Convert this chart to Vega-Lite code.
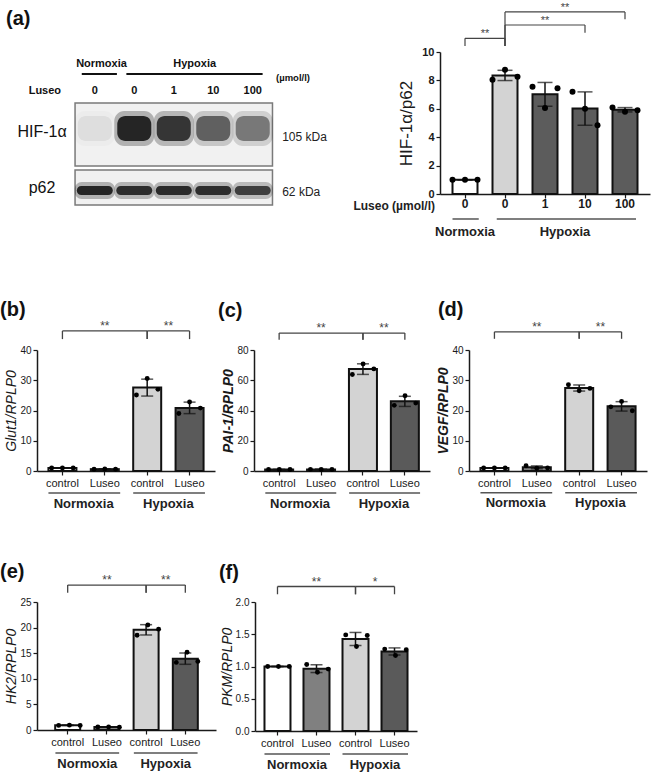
{
"$schema": "https://vega.github.io/schema/vega-lite/v6.json",
"padding": {"left": 0, "top": 1, "right": 3, "bottom": 0},
"datasets": {
"blot": [
{"lane":1,"dose":"0","protein":"HIF-1α","intensity":0.07},
{"lane":2,"dose":"0","protein":"HIF-1α","intensity":0.95},
{"lane":3,"dose":"1","protein":"HIF-1α","intensity":0.85},
{"lane":4,"dose":"10","protein":"HIF-1α","intensity":0.62},
{"lane":5,"dose":"100","protein":"HIF-1α","intensity":0.5},
{"lane":1,"dose":"0","protein":"p62","intensity":0.95},
{"lane":2,"dose":"0","protein":"p62","intensity":0.9},
{"lane":3,"dose":"1","protein":"p62","intensity":0.92},
{"lane":4,"dose":"10","protein":"p62","intensity":0.9},
{"lane":5,"dose":"100","protein":"p62","intensity":0.8}
],
"hif": [
{"cond":"Normoxia 0","rep":1,"value":1.0},{"cond":"Normoxia 0","rep":2,"value":1.0},{"cond":"Normoxia 0","rep":3,"value":1.0},
{"cond":"Hypoxia 0","rep":1,"value":8.05},{"cond":"Hypoxia 0","rep":2,"value":8.75},{"cond":"Hypoxia 0","rep":3,"value":8.25},
{"cond":"Hypoxia 1","rep":1,"value":7.55},{"cond":"Hypoxia 1","rep":2,"value":6.05},{"cond":"Hypoxia 1","rep":3,"value":7.45},
{"cond":"Hypoxia 10","rep":1,"value":7.2},{"cond":"Hypoxia 10","rep":2,"value":6.0},{"cond":"Hypoxia 10","rep":3,"value":4.85},
{"cond":"Hypoxia 100","rep":1,"value":6.1},{"cond":"Hypoxia 100","rep":2,"value":5.8},{"cond":"Hypoxia 100","rep":3,"value":5.9}
],
"glut1": [
{"cond":"Normoxia control","rep":1,"value":1.0},{"cond":"Normoxia control","rep":2,"value":1.0},{"cond":"Normoxia control","rep":3,"value":1.0},
{"cond":"Normoxia Luseo","rep":1,"value":0.6},{"cond":"Normoxia Luseo","rep":2,"value":0.65},{"cond":"Normoxia Luseo","rep":3,"value":0.6},
{"cond":"Hypoxia control","rep":1,"value":25.1},{"cond":"Hypoxia control","rep":2,"value":30.6},{"cond":"Hypoxia control","rep":3,"value":27.0},
{"cond":"Hypoxia Luseo","rep":1,"value":19.0},{"cond":"Hypoxia Luseo","rep":2,"value":22.8},{"cond":"Hypoxia Luseo","rep":3,"value":20.8}
],
"pai1": [
{"cond":"Normoxia control","rep":1,"value":1.0},{"cond":"Normoxia control","rep":2,"value":1.0},{"cond":"Normoxia control","rep":3,"value":1.0},
{"cond":"Normoxia Luseo","rep":1,"value":1.1},{"cond":"Normoxia Luseo","rep":2,"value":1.0},{"cond":"Normoxia Luseo","rep":3,"value":1.0},
{"cond":"Hypoxia control","rep":1,"value":63.8},{"cond":"Hypoxia control","rep":2,"value":70.8},{"cond":"Hypoxia control","rep":3,"value":67.5},
{"cond":"Hypoxia Luseo","rep":1,"value":43.4},{"cond":"Hypoxia Luseo","rep":2,"value":49.8},{"cond":"Hypoxia Luseo","rep":3,"value":44.9}
],
"vegf": [
{"cond":"Normoxia control","rep":1,"value":1.0},{"cond":"Normoxia control","rep":2,"value":1.0},{"cond":"Normoxia control","rep":3,"value":1.0},
{"cond":"Normoxia Luseo","rep":1,"value":1.75},{"cond":"Normoxia Luseo","rep":2,"value":0.9},{"cond":"Normoxia Luseo","rep":3,"value":1.0},
{"cond":"Hypoxia control","rep":1,"value":28.5},{"cond":"Hypoxia control","rep":2,"value":26.5},{"cond":"Hypoxia control","rep":3,"value":27.3},
{"cond":"Hypoxia Luseo","rep":1,"value":21.2},{"cond":"Hypoxia Luseo","rep":2,"value":23.0},{"cond":"Hypoxia Luseo","rep":3,"value":19.9}
],
"hk2": [
{"cond":"Normoxia control","rep":1,"value":0.9},{"cond":"Normoxia control","rep":2,"value":0.95},{"cond":"Normoxia control","rep":3,"value":0.9},
{"cond":"Normoxia Luseo","rep":1,"value":0.6},{"cond":"Normoxia Luseo","rep":2,"value":0.6},{"cond":"Normoxia Luseo","rep":3,"value":0.55},
{"cond":"Hypoxia control","rep":1,"value":18.5},{"cond":"Hypoxia control","rep":2,"value":20.5},{"cond":"Hypoxia control","rep":3,"value":19.7},
{"cond":"Hypoxia Luseo","rep":1,"value":13.2},{"cond":"Hypoxia Luseo","rep":2,"value":15.2},{"cond":"Hypoxia Luseo","rep":3,"value":13.4}
],
"pkm": [
{"cond":"Normoxia control","rep":1,"value":1.0},{"cond":"Normoxia control","rep":2,"value":1.0},{"cond":"Normoxia control","rep":3,"value":1.0},
{"cond":"Normoxia Luseo","rep":1,"value":1.03},{"cond":"Normoxia Luseo","rep":2,"value":0.91},{"cond":"Normoxia Luseo","rep":3,"value":0.96},
{"cond":"Hypoxia control","rep":1,"value":1.49},{"cond":"Hypoxia control","rep":2,"value":1.31},{"cond":"Hypoxia control","rep":3,"value":1.48},
{"cond":"Hypoxia Luseo","rep":1,"value":1.27},{"cond":"Hypoxia Luseo","rep":2,"value":1.17},{"cond":"Hypoxia Luseo","rep":3,"value":1.26}
],
"brk4": [{"a":"Normoxia control","b":"Hypoxia control"},{"a":"Hypoxia control","b":"Hypoxia Luseo"}],
"grp4": [{"a":"Normoxia control","b":"Normoxia Luseo","g":"Normoxia"},{"a":"Hypoxia control","b":"Hypoxia Luseo","g":"Hypoxia"}]
},
"spacing": 60,
"resolve": {"scale": {"color": "independent", "xOffset": "independent"}},
"vconcat": [
{"hconcat": [
{
"width": 364, "height": 163,
"layer": [
{"data": {"values": [{}]}, "layer": [
{"mark": {"type": "rect", "fill": "#f1f1f1", "stroke": "#7a7a7a", "strokeWidth": 1.5}, "encoding": {"x": {"datum": 0.5, "type": "quantitative", "scale": {"domain": [-0.337, 8.628], "nice": false, "zero": false}, "axis": null}, "x2": {"datum": 5.5}, "y": {"datum": 3.9, "type": "quantitative", "scale": {"domain": [-1, 15.3], "nice": false, "zero": false}, "axis": null}, "y2": {"datum": 10.2}}},
{"mark": {"type": "rect", "fill": "#f1f1f1", "stroke": "#7a7a7a", "strokeWidth": 1.5}, "encoding": {"x": {"datum": 0.5, "type": "quantitative", "axis": null}, "x2": {"datum": 5.5}, "y": {"datum": 0, "type": "quantitative", "axis": null}, "y2": {"datum": 3.5}}},
{"mark": {"type": "rule", "color": "#111", "strokeWidth": 2}, "encoding": {"x": {"datum": 0.67, "type": "quantitative", "axis": null}, "x2": {"datum": 1.56}, "y": {"datum": 13.1, "type": "quantitative", "axis": null}}},
{"mark": {"type": "rule", "color": "#111", "strokeWidth": 2}, "encoding": {"x": {"datum": 1.8, "type": "quantitative", "axis": null}, "x2": {"datum": 5.25}, "y": {"datum": 13.1, "type": "quantitative", "axis": null}}},
{"mark": {"type": "text", "text": "(a)", "fontSize": 20, "fontWeight": "bold", "align": "left", "baseline": "alphabetic", "color": "#111"}, "encoding": {"x": {"datum": -1.249, "type": "quantitative", "axis": null}, "y": {"datum": 18.0, "type": "quantitative", "axis": null}}},
{"mark": {"type": "text", "text": "Normoxia", "fontSize": 11, "fontWeight": "bold", "baseline": "alphabetic", "color": "#111"}, "encoding": {"x": {"datum": 1.17, "type": "quantitative", "axis": null}, "y": {"datum": 13.8, "type": "quantitative", "axis": null}}},
{"mark": {"type": "text", "text": "Hypoxia", "fontSize": 11, "fontWeight": "bold", "baseline": "alphabetic", "color": "#111"}, "encoding": {"x": {"datum": 3.53, "type": "quantitative", "axis": null}, "y": {"datum": 13.8, "type": "quantitative", "axis": null}}},
{"mark": {"type": "text", "text": "(µmol/l)", "fontSize": 9.5, "fontWeight": "bold", "baseline": "alphabetic", "color": "#111"}, "encoding": {"x": {"datum": 6.02, "type": "quantitative", "axis": null}, "y": {"datum": 12.4, "type": "quantitative", "axis": null}}},
{"mark": {"type": "text", "text": "Luseo", "fontSize": 11, "fontWeight": "bold", "baseline": "alphabetic", "color": "#111"}, "encoding": {"x": {"datum": -0.264, "type": "quantitative", "axis": null}, "y": {"datum": 11.1, "type": "quantitative", "axis": null}}},
{"mark": {"type": "text", "text": "HIF-1α", "fontSize": 16, "baseline": "alphabetic", "color": "#111"}, "encoding": {"x": {"datum": -0.337, "type": "quantitative", "axis": null}, "y": {"datum": 6.8, "type": "quantitative", "axis": null}}},
{"mark": {"type": "text", "text": "p62", "fontSize": 16, "baseline": "alphabetic", "color": "#111"}, "encoding": {"x": {"datum": -0.337, "type": "quantitative", "axis": null}, "y": {"datum": 1.2, "type": "quantitative", "axis": null}}},
{"mark": {"type": "text", "text": "105 kDa", "fontSize": 12, "align": "left", "baseline": "alphabetic", "color": "#222"}, "encoding": {"x": {"datum": 5.746, "type": "quantitative", "axis": null}, "y": {"datum": 6.4, "type": "quantitative", "axis": null}}},
{"mark": {"type": "text", "text": "62 kDa", "fontSize": 12, "align": "left", "baseline": "alphabetic", "color": "#222"}, "encoding": {"x": {"datum": 5.746, "type": "quantitative", "axis": null}, "y": {"datum": 0.9, "type": "quantitative", "axis": null}}}
]},
{"data": {"name": "blot"}, "transform": [{"filter": "datum.protein == 'HIF-1α'"}], "layer": [
{"mark": {"type": "bar", "size": 40, "cornerRadius": 10, "color": "#111"}, "encoding": {"x": {"field": "lane", "type": "quantitative", "scale": {"domain": [-0.337, 8.628], "nice": false, "zero": false}, "axis": null}, "y": {"datum": 5.9, "type": "quantitative", "axis": null}, "y2": {"datum": 9.4}, "fillOpacity": {"field": "intensity", "type": "quantitative", "scale": {"domain": [0, 1], "range": [0, 0.3]}, "legend": null}}},
{"mark": {"type": "bar", "size": 34, "cornerRadius": 8, "color": "#111"}, "encoding": {"x": {"field": "lane", "type": "quantitative", "axis": null}, "y": {"datum": 6.4, "type": "quantitative", "axis": null}, "y2": {"datum": 8.9}, "opacity": {"field": "intensity", "type": "quantitative", "scale": {"domain": [0, 1], "range": [0, 0.92]}, "legend": null}}},
{"mark": {"type": "text", "fontSize": 11, "fontWeight": "bold", "baseline": "alphabetic", "color": "#111"}, "encoding": {"x": {"field": "lane", "type": "quantitative", "axis": null}, "y": {"datum": 11.1, "type": "quantitative", "axis": null}, "text": {"field": "dose"}}}
]},
{"data": {"name": "blot"}, "transform": [{"filter": "datum.protein == 'p62'"}], "layer": [
{"mark": {"type": "bar", "size": 40, "cornerRadius": 7, "color": "#111"}, "encoding": {"x": {"field": "lane", "type": "quantitative", "axis": null}, "y": {"datum": 0.6, "type": "quantitative", "axis": null}, "y2": {"datum": 2.3}, "fillOpacity": {"field": "intensity", "type": "quantitative", "scale": {"domain": [0, 1], "range": [0, 0.3]}, "legend": null}}},
{"mark": {"type": "bar", "size": 36, "cornerRadius": 5, "color": "#111"}, "encoding": {"x": {"field": "lane", "type": "quantitative", "axis": null}, "y": {"datum": 1.0, "type": "quantitative", "axis": null}, "y2": {"datum": 1.9}, "opacity": {"field": "intensity", "type": "quantitative", "scale": {"domain": [0, 1], "range": [0, 0.92]}, "legend": null}}}
]}
]
},
{
"width": 210, "height": 142,
"resolve": {"scale": {"y": "independent"}, "axis": {"y": "independent"}},
"layer": [
{"data": {"name": "hif"}, "mark": {"type": "bar", "size": 25, "stroke": "#111", "strokeWidth": 2}, "encoding": {
"x": {"field": "cond", "type": "nominal", "title": null, "scale": {"domain": ["Normoxia 0","Hypoxia 0","Hypoxia 1","Hypoxia 10","Hypoxia 100"], "paddingInner": 0.375, "paddingOuter": 0.3125}, "axis": {"labelExpr": "split(datum.label, ' ')[1]", "labelFontSize": 12, "labelFontWeight": "bold", "labelPadding": 0}},
"y": {"aggregate": "mean", "field": "value", "type": "quantitative", "title": "HIF-1α/p62", "scale": {"domain": [0, 10], "nice": false}, "axis": {"values": [0,2,4,6,8,10], "labelOverlap": false, "labelFontWeight": "bold", "labelFontSize": 11, "titleFontSize": 17, "titlePadding": 6}},
"color": {"field": "cond", "type": "nominal", "scale": {"domain": ["Normoxia 0","Hypoxia 0","Hypoxia 1","Hypoxia 10","Hypoxia 100"], "range": ["#ffffff","#d3d3d3","#5c5c5c","#5c5c5c","#5c5c5c"]}, "legend": null}}},
{"data": {"name": "hif"}, "mark": {"type": "errorbar", "extent": "stdev", "ticks": true, "size": 15, "thickness": 1.5, "color": "#111"}, "encoding": {
"x": {"field": "cond", "type": "nominal", "title": null},
"y": {"field": "value", "type": "quantitative", "scale": {"domain": [0, 10], "nice": false}, "axis": null}}},
{"data": {"name": "hif"}, "mark": {"type": "point", "filled": true, "color": "#000", "size": 36, "opacity": 1}, "encoding": {
"x": {"field": "cond", "type": "nominal", "title": null},
"y": {"field": "value", "type": "quantitative", "scale": {"domain": [0, 10], "nice": false}, "axis": null},
"xOffset": {"field": "rep", "type": "nominal", "scale": {"paddingInner": 0, "paddingOuter": 0}}}},
{"data": {"values": [{"a": "Normoxia 0", "b": "Hypoxia 0", "s": "**"}]}, "layer": [
{"mark": {"type": "rule", "color": "#444", "strokeWidth": 1.2}, "encoding": {"x": {"field": "a", "type": "nominal", "title": null}, "x2": {"field": "b"}, "y": {"datum": 10.96, "type": "quantitative", "scale": {"domain": [0, 10], "nice": false}, "axis": null}}},
{"mark": {"type": "rule", "color": "#444", "strokeWidth": 1.2}, "encoding": {"x": {"field": "a", "type": "nominal", "title": null}, "y": {"datum": 10.96, "type": "quantitative", "scale": {"domain": [0, 10], "nice": false}, "axis": null}, "y2": {"datum": 10.42}}},
{"mark": {"type": "rule", "color": "#444", "strokeWidth": 1.2}, "encoding": {"x": {"field": "b", "type": "nominal", "title": null}, "y": {"datum": 10.96, "type": "quantitative", "scale": {"domain": [0, 10], "nice": false}, "axis": null}, "y2": {"datum": 10.42}}},
{"mark": {"type": "text", "fontSize": 11, "color": "#444", "baseline": "alphabetic", "dy": -1}, "encoding": {"x": {"field": "a", "type": "nominal", "bandPosition": 1.3, "title": null}, "y": {"datum": 10.96, "type": "quantitative", "scale": {"domain": [0, 10], "nice": false}, "axis": null}, "text": {"field": "s"}}}
]},
{"data": {"values": [{"a": "Hypoxia 0", "b": "Hypoxia 10", "m": "Hypoxia 1", "s": "**"}]}, "layer": [
{"mark": {"type": "rule", "color": "#444", "strokeWidth": 1.2}, "encoding": {"x": {"field": "a", "type": "nominal", "title": null}, "x2": {"field": "b"}, "y": {"datum": 11.9, "type": "quantitative", "scale": {"domain": [0, 10], "nice": false}, "axis": null}}},
{"mark": {"type": "rule", "color": "#444", "strokeWidth": 1.2}, "encoding": {"x": {"field": "a", "type": "nominal", "title": null}, "y": {"datum": 11.9, "type": "quantitative", "scale": {"domain": [0, 10], "nice": false}, "axis": null}, "y2": {"datum": 10.42}}},
{"mark": {"type": "rule", "color": "#444", "strokeWidth": 1.2}, "encoding": {"x": {"field": "b", "type": "nominal", "title": null}, "y": {"datum": 11.9, "type": "quantitative", "scale": {"domain": [0, 10], "nice": false}, "axis": null}, "y2": {"datum": 11.36}}},
{"mark": {"type": "text", "fontSize": 11, "color": "#444", "baseline": "alphabetic", "dy": -1}, "encoding": {"x": {"field": "m", "type": "nominal", "title": null}, "y": {"datum": 11.9, "type": "quantitative", "scale": {"domain": [0, 10], "nice": false}, "axis": null}, "text": {"field": "s"}}}
]},
{"data": {"values": [{"a": "Hypoxia 0", "b": "Hypoxia 100", "m": "Hypoxia 1", "s": "**"}]}, "layer": [
{"mark": {"type": "rule", "color": "#444", "strokeWidth": 1.2}, "encoding": {"x": {"field": "a", "type": "nominal", "title": null}, "x2": {"field": "b"}, "y": {"datum": 12.82, "type": "quantitative", "scale": {"domain": [0, 10], "nice": false}, "axis": null}}},
{"mark": {"type": "rule", "color": "#444", "strokeWidth": 1.2}, "encoding": {"x": {"field": "a", "type": "nominal", "title": null}, "y": {"datum": 12.82, "type": "quantitative", "scale": {"domain": [0, 10], "nice": false}, "axis": null}, "y2": {"datum": 10.42}}},
{"mark": {"type": "rule", "color": "#444", "strokeWidth": 1.2}, "encoding": {"x": {"field": "b", "type": "nominal", "title": null}, "y": {"datum": 12.82, "type": "quantitative", "scale": {"domain": [0, 10], "nice": false}, "axis": null}, "y2": {"datum": 12.3}}},
{"mark": {"type": "text", "fontSize": 11, "color": "#444", "baseline": "alphabetic", "dy": -1}, "encoding": {"x": {"field": "m", "type": "nominal", "bandPosition": 1.3, "title": null}, "y": {"datum": 12.82, "type": "quantitative", "scale": {"domain": [0, 10], "nice": false}, "axis": null}, "text": {"field": "s"}}}
]},
{"data": {"values": [{"a": "Normoxia 0", "g": "Normoxia", "t": "Luseo (µmol/l)"}]}, "layer": [
{"mark": {"type": "rule", "color": "#555", "strokeWidth": 1.5}, "encoding": {"x": {"field": "a", "type": "nominal", "bandPosition": 0, "title": null}, "x2": {"field": "a", "bandPosition": 1.05}, "y": {"datum": -1.76, "type": "quantitative", "scale": {"domain": [0, 10], "nice": false}, "axis": null}}},
{"mark": {"type": "text", "fontSize": 13, "fontWeight": "bold", "color": "#222", "baseline": "alphabetic"}, "encoding": {"x": {"field": "a", "type": "nominal", "title": null}, "y": {"datum": -2.96, "type": "quantitative", "scale": {"domain": [0, 10], "nice": false}, "axis": null}, "text": {"field": "g"}}},
{"mark": {"type": "text", "fontSize": 12, "fontWeight": "bold", "color": "#222", "align": "right", "baseline": "alphabetic"}, "encoding": {"x": {"field": "a", "type": "nominal", "bandPosition": -0.7, "title": null}, "y": {"datum": -1.1, "type": "quantitative", "scale": {"domain": [0, 10], "nice": false}, "axis": null}, "text": {"field": "t"}}}
]},
{"data": {"values": [{"a": "Hypoxia 0", "b": "Hypoxia 100", "m": "Hypoxia 1", "g": "Hypoxia"}]}, "layer": [
{"mark": {"type": "rule", "color": "#555", "strokeWidth": 1.5}, "encoding": {"x": {"field": "a", "type": "nominal", "bandPosition": 0.17, "title": null}, "x2": {"field": "b", "bandPosition": 0.94}, "y": {"datum": -1.76, "type": "quantitative", "scale": {"domain": [0, 10], "nice": false}, "axis": null}}},
{"mark": {"type": "text", "fontSize": 13, "fontWeight": "bold", "color": "#222", "baseline": "alphabetic"}, "encoding": {"x": {"field": "m", "type": "nominal", "bandPosition": 1.3, "title": null}, "y": {"datum": -2.96, "type": "quantitative", "scale": {"domain": [0, 10], "nice": false}, "axis": null}, "text": {"field": "g"}}}
]}
]
}
], "spacing": 39, "bounds": "flush"},
{"vconcat": [
{"hconcat": [
{
"width": 178, "height": 121,
"resolve": {"scale": {"y": "independent"}, "axis": {"y": "independent"}},
"layer": [
{"data": {"name": "glut1"}, "mark": {"type": "bar", "size": 28, "stroke": "#111", "strokeWidth": 2}, "encoding": {
"x": {"field": "cond", "type": "nominal", "title": null, "scale": {"domain": ["Normoxia control","Normoxia Luseo","Hypoxia control","Hypoxia Luseo"], "paddingInner": 0.34, "paddingOuter": 0.27}, "axis": {"labelExpr": "split(datum.label, ' ')[1]"}},
"y": {"aggregate": "mean", "field": "value", "type": "quantitative", "title": "Glut1/RPLP0", "scale": {"domain": [0, 40], "nice": false}, "axis": {"values": [0,10,20,30,40], "labelOverlap": false, "titleFontStyle": "italic"}},
"color": {"field": "cond", "type": "nominal", "scale": {"domain": ["Normoxia control","Normoxia Luseo","Hypoxia control","Hypoxia Luseo"], "range": ["#ffffff","#808080","#d3d3d3","#5a5a5a"]}, "legend": null}}},
{"data": {"name": "glut1"}, "mark": {"type": "errorbar", "extent": "stdev", "ticks": true, "size": 12, "thickness": 1.5, "color": "#111"}, "encoding": {"x": {"field": "cond", "type": "nominal", "title": null}, "y": {"field": "value", "type": "quantitative", "scale": {"domain": [0, 40], "nice": false}, "axis": null}}},
{"data": {"name": "glut1"}, "mark": {"type": "point", "filled": true, "color": "#000", "size": 24, "opacity": 1}, "encoding": {"x": {"field": "cond", "type": "nominal", "title": null}, "y": {"field": "value", "type": "quantitative", "scale": {"domain": [0, 40], "nice": false}, "axis": null}, "xOffset": {"field": "rep", "type": "nominal", "scale": {"paddingInner": 0, "paddingOuter": 0.3}}}},
{"data": {"name": "brk4"}, "layer": [
{"mark": {"type": "rule", "color": "#444", "strokeWidth": 1.3}, "encoding": {"x": {"field": "a", "type": "nominal", "title": null}, "x2": {"field": "b"}, "y": {"datum": 46.3, "type": "quantitative", "scale": {"domain": [0, 40], "nice": false}, "axis": null}}},
{"mark": {"type": "rule", "color": "#444", "strokeWidth": 1.3}, "encoding": {"x": {"field": "a", "type": "nominal", "title": null}, "y": {"datum": 46.3, "type": "quantitative", "scale": {"domain": [0, 40], "nice": false}, "axis": null}, "y2": {"datum": 43.6}}},
{"mark": {"type": "rule", "color": "#444", "strokeWidth": 1.3}, "encoding": {"x": {"field": "b", "type": "nominal", "title": null}, "y": {"datum": 46.3, "type": "quantitative", "scale": {"domain": [0, 40], "nice": false}, "axis": null}, "y2": {"datum": 43.6}}}
]},
{"data": {"values": [{"m": "Normoxia Luseo", "s": "**"}]}, "mark": {"type": "text", "fontSize": 12, "color": "#444", "baseline": "alphabetic", "dy": -1}, "encoding": {"x": {"field": "m", "type": "nominal", "title": null}, "y": {"datum": 46.3, "type": "quantitative", "scale": {"domain": [0, 40], "nice": false}, "axis": null}, "text": {"field": "s"}}},
{"data": {"values": [{"m": "Hypoxia control", "s": "**"}]}, "mark": {"type": "text", "fontSize": 12, "color": "#444", "baseline": "alphabetic", "dy": -1}, "encoding": {"x": {"field": "m", "type": "nominal", "bandPosition": 1.258, "title": null}, "y": {"datum": 46.3, "type": "quantitative", "scale": {"domain": [0, 40], "nice": false}, "axis": null}, "text": {"field": "s"}}},
{"data": {"values": [{"m": "Normoxia control", "t": "(b)"}]}, "mark": {"type": "text", "fontSize": 20, "fontWeight": "bold", "color": "#111", "align": "left", "baseline": "alphabetic"}, "encoding": {"x": {"field": "m", "type": "nominal", "bandPosition": -1.73, "title": null}, "y": {"datum": 51.2, "type": "quantitative", "scale": {"domain": [0, 40], "nice": false}, "axis": null}, "text": {"field": "t"}}},
{"data": {"name": "grp4"}, "layer": [
{"mark": {"type": "rule", "color": "#555", "strokeWidth": 1.5}, "encoding": {"x": {"field": "a", "type": "nominal", "bandPosition": 0, "title": null}, "x2": {"field": "b", "bandPosition": 1.05}, "y": {"datum": -7.3, "type": "quantitative", "scale": {"domain": [0, 40], "nice": false}, "axis": null}}},
{"mark": {"type": "text", "fontSize": 13, "fontWeight": "bold", "color": "#222", "baseline": "alphabetic"}, "encoding": {"x": {"field": "a", "type": "nominal", "bandPosition": 1.258, "title": null}, "y": {"datum": -12.2, "type": "quantitative", "scale": {"domain": [0, 40], "nice": false}, "axis": null}, "text": {"field": "g"}}}
]}
]
},
{
"width": 176, "height": 121,
"resolve": {"scale": {"y": "independent"}, "axis": {"y": "independent"}},
"layer": [
{"data": {"name": "pai1"}, "mark": {"type": "bar", "size": 28, "stroke": "#111", "strokeWidth": 2}, "encoding": {
"x": {"field": "cond", "type": "nominal", "title": null, "scale": {"domain": ["Normoxia control","Normoxia Luseo","Hypoxia control","Hypoxia Luseo"], "paddingInner": 0.34, "paddingOuter": 0.27}, "axis": {"labelExpr": "split(datum.label, ' ')[1]"}},
"y": {"aggregate": "mean", "field": "value", "type": "quantitative", "title": "PAI-1/RPLP0", "scale": {"domain": [0, 80], "nice": false}, "axis": {"values": [0,20,40,60,80], "labelOverlap": false, "titleFontStyle": "italic", "titleFontWeight": "bold"}},
"color": {"field": "cond", "type": "nominal", "scale": {"domain": ["Normoxia control","Normoxia Luseo","Hypoxia control","Hypoxia Luseo"], "range": ["#ffffff","#808080","#d3d3d3","#5a5a5a"]}, "legend": null}}},
{"data": {"name": "pai1"}, "mark": {"type": "errorbar", "extent": "stdev", "ticks": true, "size": 12, "thickness": 1.5, "color": "#111"}, "encoding": {"x": {"field": "cond", "type": "nominal", "title": null}, "y": {"field": "value", "type": "quantitative", "scale": {"domain": [0, 80], "nice": false}, "axis": null}}},
{"data": {"name": "pai1"}, "mark": {"type": "point", "filled": true, "color": "#000", "size": 24, "opacity": 1}, "encoding": {"x": {"field": "cond", "type": "nominal", "title": null}, "y": {"field": "value", "type": "quantitative", "scale": {"domain": [0, 80], "nice": false}, "axis": null}, "xOffset": {"field": "rep", "type": "nominal", "scale": {"paddingInner": 0, "paddingOuter": 0.3}}}},
{"data": {"name": "brk4"}, "layer": [
{"mark": {"type": "rule", "color": "#444", "strokeWidth": 1.3}, "encoding": {"x": {"field": "a", "type": "nominal", "title": null}, "x2": {"field": "b"}, "y": {"datum": 91.2, "type": "quantitative", "scale": {"domain": [0, 80], "nice": false}, "axis": null}}},
{"mark": {"type": "rule", "color": "#444", "strokeWidth": 1.3}, "encoding": {"x": {"field": "a", "type": "nominal", "title": null}, "y": {"datum": 91.2, "type": "quantitative", "scale": {"domain": [0, 80], "nice": false}, "axis": null}, "y2": {"datum": 86.8}}},
{"mark": {"type": "rule", "color": "#444", "strokeWidth": 1.3}, "encoding": {"x": {"field": "b", "type": "nominal", "title": null}, "y": {"datum": 91.2, "type": "quantitative", "scale": {"domain": [0, 80], "nice": false}, "axis": null}, "y2": {"datum": 86.8}}}
]},
{"data": {"values": [{"m": "Normoxia Luseo", "s": "**"}]}, "mark": {"type": "text", "fontSize": 12, "color": "#444", "baseline": "alphabetic", "dy": -1}, "encoding": {"x": {"field": "m", "type": "nominal", "title": null}, "y": {"datum": 91.2, "type": "quantitative", "scale": {"domain": [0, 80], "nice": false}, "axis": null}, "text": {"field": "s"}}},
{"data": {"values": [{"m": "Hypoxia control", "s": "**"}]}, "mark": {"type": "text", "fontSize": 12, "color": "#444", "baseline": "alphabetic", "dy": -1}, "encoding": {"x": {"field": "m", "type": "nominal", "bandPosition": 1.258, "title": null}, "y": {"datum": 91.2, "type": "quantitative", "scale": {"domain": [0, 80], "nice": false}, "axis": null}, "text": {"field": "s"}}},
{"data": {"values": [{"m": "Normoxia control", "t": "(c)"}]}, "mark": {"type": "text", "fontSize": 20, "fontWeight": "bold", "color": "#111", "align": "left", "baseline": "alphabetic"}, "encoding": {"x": {"field": "m", "type": "nominal", "bandPosition": -1.71, "title": null}, "y": {"datum": 101.8, "type": "quantitative", "scale": {"domain": [0, 80], "nice": false}, "axis": null}, "text": {"field": "t"}}},
{"data": {"name": "grp4"}, "layer": [
{"mark": {"type": "rule", "color": "#555", "strokeWidth": 1.5}, "encoding": {"x": {"field": "a", "type": "nominal", "bandPosition": 0, "title": null}, "x2": {"field": "b", "bandPosition": 1.05}, "y": {"datum": -14.5, "type": "quantitative", "scale": {"domain": [0, 80], "nice": false}, "axis": null}}},
{"mark": {"type": "text", "fontSize": 13, "fontWeight": "bold", "color": "#222", "baseline": "alphabetic"}, "encoding": {"x": {"field": "a", "type": "nominal", "bandPosition": 1.258, "title": null}, "y": {"datum": -24.5, "type": "quantitative", "scale": {"domain": [0, 80], "nice": false}, "axis": null}, "text": {"field": "g"}}}
]}
]
},
{
"width": 178, "height": 121,
"resolve": {"scale": {"y": "independent"}, "axis": {"y": "independent"}},
"layer": [
{"data": {"name": "vegf"}, "mark": {"type": "bar", "size": 28, "stroke": "#111", "strokeWidth": 2}, "encoding": {
"x": {"field": "cond", "type": "nominal", "title": null, "scale": {"domain": ["Normoxia control","Normoxia Luseo","Hypoxia control","Hypoxia Luseo"], "paddingInner": 0.34, "paddingOuter": 0.27}, "axis": {"labelExpr": "split(datum.label, ' ')[1]"}},
"y": {"aggregate": "mean", "field": "value", "type": "quantitative", "title": "VEGF/RPLP0", "scale": {"domain": [0, 40], "nice": false}, "axis": {"values": [0,10,20,30,40], "labelOverlap": false, "titleFontStyle": "italic", "titleFontWeight": "bold"}},
"color": {"field": "cond", "type": "nominal", "scale": {"domain": ["Normoxia control","Normoxia Luseo","Hypoxia control","Hypoxia Luseo"], "range": ["#ffffff","#808080","#d3d3d3","#5a5a5a"]}, "legend": null}}},
{"data": {"name": "vegf"}, "mark": {"type": "errorbar", "extent": "stdev", "ticks": true, "size": 12, "thickness": 1.5, "color": "#111"}, "encoding": {"x": {"field": "cond", "type": "nominal", "title": null}, "y": {"field": "value", "type": "quantitative", "scale": {"domain": [0, 40], "nice": false}, "axis": null}}},
{"data": {"name": "vegf"}, "mark": {"type": "point", "filled": true, "color": "#000", "size": 24, "opacity": 1}, "encoding": {"x": {"field": "cond", "type": "nominal", "title": null}, "y": {"field": "value", "type": "quantitative", "scale": {"domain": [0, 40], "nice": false}, "axis": null}, "xOffset": {"field": "rep", "type": "nominal", "scale": {"paddingInner": 0, "paddingOuter": 0.3}}}},
{"data": {"name": "brk4"}, "layer": [
{"mark": {"type": "rule", "color": "#444", "strokeWidth": 1.3}, "encoding": {"x": {"field": "a", "type": "nominal", "title": null}, "x2": {"field": "b"}, "y": {"datum": 46.0, "type": "quantitative", "scale": {"domain": [0, 40], "nice": false}, "axis": null}}},
{"mark": {"type": "rule", "color": "#444", "strokeWidth": 1.3}, "encoding": {"x": {"field": "a", "type": "nominal", "title": null}, "y": {"datum": 46.0, "type": "quantitative", "scale": {"domain": [0, 40], "nice": false}, "axis": null}, "y2": {"datum": 43.7}}},
{"mark": {"type": "rule", "color": "#444", "strokeWidth": 1.3}, "encoding": {"x": {"field": "b", "type": "nominal", "title": null}, "y": {"datum": 46.0, "type": "quantitative", "scale": {"domain": [0, 40], "nice": false}, "axis": null}, "y2": {"datum": 43.7}}}
]},
{"data": {"values": [{"m": "Normoxia Luseo", "s": "**"}]}, "mark": {"type": "text", "fontSize": 12, "color": "#444", "baseline": "alphabetic", "dy": -1}, "encoding": {"x": {"field": "m", "type": "nominal", "title": null}, "y": {"datum": 46.0, "type": "quantitative", "scale": {"domain": [0, 40], "nice": false}, "axis": null}, "text": {"field": "s"}}},
{"data": {"values": [{"m": "Hypoxia control", "s": "**"}]}, "mark": {"type": "text", "fontSize": 12, "color": "#444", "baseline": "alphabetic", "dy": -1}, "encoding": {"x": {"field": "m", "type": "nominal", "bandPosition": 1.258, "title": null}, "y": {"datum": 46.0, "type": "quantitative", "scale": {"domain": [0, 40], "nice": false}, "axis": null}, "text": {"field": "s"}}},
{"data": {"values": [{"m": "Normoxia control", "t": "(d)"}]}, "mark": {"type": "text", "fontSize": 20, "fontWeight": "bold", "color": "#111", "align": "left", "baseline": "alphabetic"}, "encoding": {"x": {"field": "m", "type": "nominal", "bandPosition": -1.52, "title": null}, "y": {"datum": 51.2, "type": "quantitative", "scale": {"domain": [0, 40], "nice": false}, "axis": null}, "text": {"field": "t"}}},
{"data": {"name": "grp4"}, "layer": [
{"mark": {"type": "rule", "color": "#555", "strokeWidth": 1.5}, "encoding": {"x": {"field": "a", "type": "nominal", "bandPosition": 0, "title": null}, "x2": {"field": "b", "bandPosition": 1.05}, "y": {"datum": -7.2, "type": "quantitative", "scale": {"domain": [0, 40], "nice": false}, "axis": null}}},
{"mark": {"type": "text", "fontSize": 13, "fontWeight": "bold", "color": "#222", "baseline": "alphabetic"}, "encoding": {"x": {"field": "a", "type": "nominal", "bandPosition": 1.258, "title": null}, "y": {"datum": -11.9, "type": "quantitative", "scale": {"domain": [0, 40], "nice": false}, "axis": null}, "text": {"field": "g"}}}
]}
]
}
], "spacing": 39, "bounds": "flush"},
{"hconcat": [
{
"width": 179, "height": 128,
"resolve": {"scale": {"y": "independent"}, "axis": {"y": "independent"}},
"layer": [
{"data": {"name": "hk2"}, "mark": {"type": "bar", "size": 25, "stroke": "#111", "strokeWidth": 2}, "encoding": {
"x": {"field": "cond", "type": "nominal", "title": null, "scale": {"domain": ["Normoxia control","Normoxia Luseo","Hypoxia control","Hypoxia Luseo"], "paddingInner": 0.375, "paddingOuter": 0.47}, "axis": {"labelExpr": "split(datum.label, ' ')[1]"}},
"y": {"aggregate": "mean", "field": "value", "type": "quantitative", "title": "HK2/RPLP0", "scale": {"domain": [0, 25], "nice": false}, "axis": {"values": [0,5,10,15,20,25], "labelOverlap": false, "titleFontStyle": "italic"}},
"color": {"field": "cond", "type": "nominal", "scale": {"domain": ["Normoxia control","Normoxia Luseo","Hypoxia control","Hypoxia Luseo"], "range": ["#ffffff","#808080","#d3d3d3","#5a5a5a"]}, "legend": null}}},
{"data": {"name": "hk2"}, "mark": {"type": "errorbar", "extent": "stdev", "ticks": true, "size": 12, "thickness": 1.5, "color": "#111"}, "encoding": {"x": {"field": "cond", "type": "nominal", "title": null}, "y": {"field": "value", "type": "quantitative", "scale": {"domain": [0, 25], "nice": false}, "axis": null}}},
{"data": {"name": "hk2"}, "mark": {"type": "point", "filled": true, "color": "#000", "size": 24, "opacity": 1}, "encoding": {"x": {"field": "cond", "type": "nominal", "title": null}, "y": {"field": "value", "type": "quantitative", "scale": {"domain": [0, 25], "nice": false}, "axis": null}, "xOffset": {"field": "rep", "type": "nominal", "scale": {"paddingInner": 0, "paddingOuter": 0.15}}}},
{"data": {"name": "brk4"}, "layer": [
{"mark": {"type": "rule", "color": "#444", "strokeWidth": 1.3}, "encoding": {"x": {"field": "a", "type": "nominal", "title": null}, "x2": {"field": "b"}, "y": {"datum": 28.3, "type": "quantitative", "scale": {"domain": [0, 25], "nice": false}, "axis": null}}},
{"mark": {"type": "rule", "color": "#444", "strokeWidth": 1.3}, "encoding": {"x": {"field": "a", "type": "nominal", "title": null}, "y": {"datum": 28.3, "type": "quantitative", "scale": {"domain": [0, 25], "nice": false}, "axis": null}, "y2": {"datum": 26.8}}},
{"mark": {"type": "rule", "color": "#444", "strokeWidth": 1.3}, "encoding": {"x": {"field": "b", "type": "nominal", "title": null}, "y": {"datum": 28.3, "type": "quantitative", "scale": {"domain": [0, 25], "nice": false}, "axis": null}, "y2": {"datum": 26.8}}}
]},
{"data": {"values": [{"m": "Normoxia Luseo", "s": "**"}]}, "mark": {"type": "text", "fontSize": 12, "color": "#444", "baseline": "alphabetic", "dy": -1}, "encoding": {"x": {"field": "m", "type": "nominal", "title": null}, "y": {"datum": 28.3, "type": "quantitative", "scale": {"domain": [0, 25], "nice": false}, "axis": null}, "text": {"field": "s"}}},
{"data": {"values": [{"m": "Hypoxia control", "s": "**"}]}, "mark": {"type": "text", "fontSize": 12, "color": "#444", "baseline": "alphabetic", "dy": -1}, "encoding": {"x": {"field": "m", "type": "nominal", "bandPosition": 1.3, "title": null}, "y": {"datum": 28.3, "type": "quantitative", "scale": {"domain": [0, 25], "nice": false}, "axis": null}, "text": {"field": "s"}}},
{"data": {"values": [{"m": "Normoxia control", "t": "(e)"}]}, "mark": {"type": "text", "fontSize": 20, "fontWeight": "bold", "color": "#111", "align": "left", "baseline": "alphabetic"}, "encoding": {"x": {"field": "m", "type": "nominal", "bandPosition": -2.26, "title": null}, "y": {"datum": 29.7, "type": "quantitative", "scale": {"domain": [0, 25], "nice": false}, "axis": null}, "text": {"field": "t"}}},
{"data": {"name": "grp4"}, "layer": [
{"mark": {"type": "rule", "color": "#555", "strokeWidth": 1.5}, "encoding": {"x": {"field": "a", "type": "nominal", "bandPosition": 0, "title": null}, "x2": {"field": "b", "bandPosition": 1.0}, "y": {"datum": -4.5, "type": "quantitative", "scale": {"domain": [0, 25], "nice": false}, "axis": null}}},
{"mark": {"type": "text", "fontSize": 13, "fontWeight": "bold", "color": "#222", "baseline": "alphabetic"}, "encoding": {"x": {"field": "a", "type": "nominal", "bandPosition": 1.3, "title": null}, "y": {"datum": -7.4, "type": "quantitative", "scale": {"domain": [0, 25], "nice": false}, "axis": null}, "text": {"field": "g"}}}
]}
]
},
{
"width": 162, "height": 129,
"resolve": {"scale": {"y": "independent"}, "axis": {"y": "independent"}},
"layer": [
{"data": {"name": "pkm"}, "mark": {"type": "bar", "size": 26, "stroke": "#111", "strokeWidth": 2}, "encoding": {
"x": {"field": "cond", "type": "nominal", "title": null, "scale": {"domain": ["Normoxia control","Normoxia Luseo","Hypoxia control","Hypoxia Luseo"], "paddingInner": 0.333, "paddingOuter": 0.243}, "axis": {"labelExpr": "split(datum.label, ' ')[1]"}},
"y": {"aggregate": "mean", "field": "value", "type": "quantitative", "title": "PKM/RPLP0", "scale": {"domain": [0, 2], "nice": false}, "axis": {"values": [0,0.5,1,1.5,2], "format": ".1f", "labelOverlap": false, "titleFontStyle": "italic"}},
"color": {"field": "cond", "type": "nominal", "scale": {"domain": ["Normoxia control","Normoxia Luseo","Hypoxia control","Hypoxia Luseo"], "range": ["#ffffff","#808080","#d3d3d3","#5a5a5a"]}, "legend": null}}},
{"data": {"name": "pkm"}, "mark": {"type": "errorbar", "extent": "stdev", "ticks": true, "size": 12, "thickness": 1.5, "color": "#111"}, "encoding": {"x": {"field": "cond", "type": "nominal", "title": null}, "y": {"field": "value", "type": "quantitative", "scale": {"domain": [0, 2], "nice": false}, "axis": null}}},
{"data": {"name": "pkm"}, "mark": {"type": "point", "filled": true, "color": "#000", "size": 24, "opacity": 1}, "encoding": {"x": {"field": "cond", "type": "nominal", "title": null}, "y": {"field": "value", "type": "quantitative", "scale": {"domain": [0, 2], "nice": false}, "axis": null}, "xOffset": {"field": "rep", "type": "nominal", "scale": {"paddingInner": 0, "paddingOuter": 0.2}}}},
{"data": {"name": "brk4"}, "layer": [
{"mark": {"type": "rule", "color": "#444", "strokeWidth": 1.3}, "encoding": {"x": {"field": "a", "type": "nominal", "title": null}, "x2": {"field": "b"}, "y": {"datum": 2.24, "type": "quantitative", "scale": {"domain": [0, 2], "nice": false}, "axis": null}}},
{"mark": {"type": "rule", "color": "#444", "strokeWidth": 1.3}, "encoding": {"x": {"field": "a", "type": "nominal", "title": null}, "y": {"datum": 2.24, "type": "quantitative", "scale": {"domain": [0, 2], "nice": false}, "axis": null}, "y2": {"datum": 2.12}}},
{"mark": {"type": "rule", "color": "#444", "strokeWidth": 1.3}, "encoding": {"x": {"field": "b", "type": "nominal", "title": null}, "y": {"datum": 2.24, "type": "quantitative", "scale": {"domain": [0, 2], "nice": false}, "axis": null}, "y2": {"datum": 2.12}}}
]},
{"data": {"values": [{"m": "Normoxia Luseo", "s": "**"}]}, "mark": {"type": "text", "fontSize": 12, "color": "#444", "baseline": "alphabetic", "dy": -1}, "encoding": {"x": {"field": "m", "type": "nominal", "title": null}, "y": {"datum": 2.24, "type": "quantitative", "scale": {"domain": [0, 2], "nice": false}, "axis": null}, "text": {"field": "s"}}},
{"data": {"values": [{"m": "Hypoxia control", "s": "*"}]}, "mark": {"type": "text", "fontSize": 12, "color": "#444", "baseline": "alphabetic", "dy": -1}, "encoding": {"x": {"field": "m", "type": "nominal", "bandPosition": 1.25, "title": null}, "y": {"datum": 2.24, "type": "quantitative", "scale": {"domain": [0, 2], "nice": false}, "axis": null}, "text": {"field": "s"}}},
{"data": {"values": [{"m": "Normoxia control", "t": "(f)"}]}, "mark": {"type": "text", "fontSize": 20, "fontWeight": "bold", "color": "#111", "align": "left", "baseline": "alphabetic"}, "encoding": {"x": {"field": "m", "type": "nominal", "bandPosition": -1.75, "title": null}, "y": {"datum": 2.357, "type": "quantitative", "scale": {"domain": [0, 2], "nice": false}, "axis": null}, "text": {"field": "t"}}},
{"data": {"name": "grp4"}, "layer": [
{"mark": {"type": "rule", "color": "#555", "strokeWidth": 1.5}, "encoding": {"x": {"field": "a", "type": "nominal", "bandPosition": 0, "title": null}, "x2": {"field": "b", "bandPosition": 1.02}, "y": {"datum": -0.357, "type": "quantitative", "scale": {"domain": [0, 2], "nice": false}, "axis": null}}},
{"mark": {"type": "text", "fontSize": 13, "fontWeight": "bold", "color": "#222", "baseline": "alphabetic"}, "encoding": {"x": {"field": "a", "type": "nominal", "bandPosition": 1.25, "title": null}, "y": {"datum": -0.59, "type": "quantitative", "scale": {"domain": [0, 2], "nice": false}, "axis": null}, "text": {"field": "g"}}}
]}
]
}
], "spacing": 39, "bounds": "flush"}
], "spacing": 49}
],
"config": {
"font": "Liberation Sans",
"view": {"stroke": null},
"axis": {"grid": false, "labelOverlap": false, "domainColor": "#1a1a1a", "domainWidth": 1.5, "tickColor": "#1a1a1a", "tickWidth": 1.2, "tickSize": 4, "labelColor": "#1a1a1a", "titleColor": "#1a1a1a", "labelFontSize": 10, "titleFontWeight": "normal", "titlePadding": 1},
"axisX": {"labelAngle": 0, "labelFontSize": 11},
"axisY": {"titleFontSize": 14}
}
}
